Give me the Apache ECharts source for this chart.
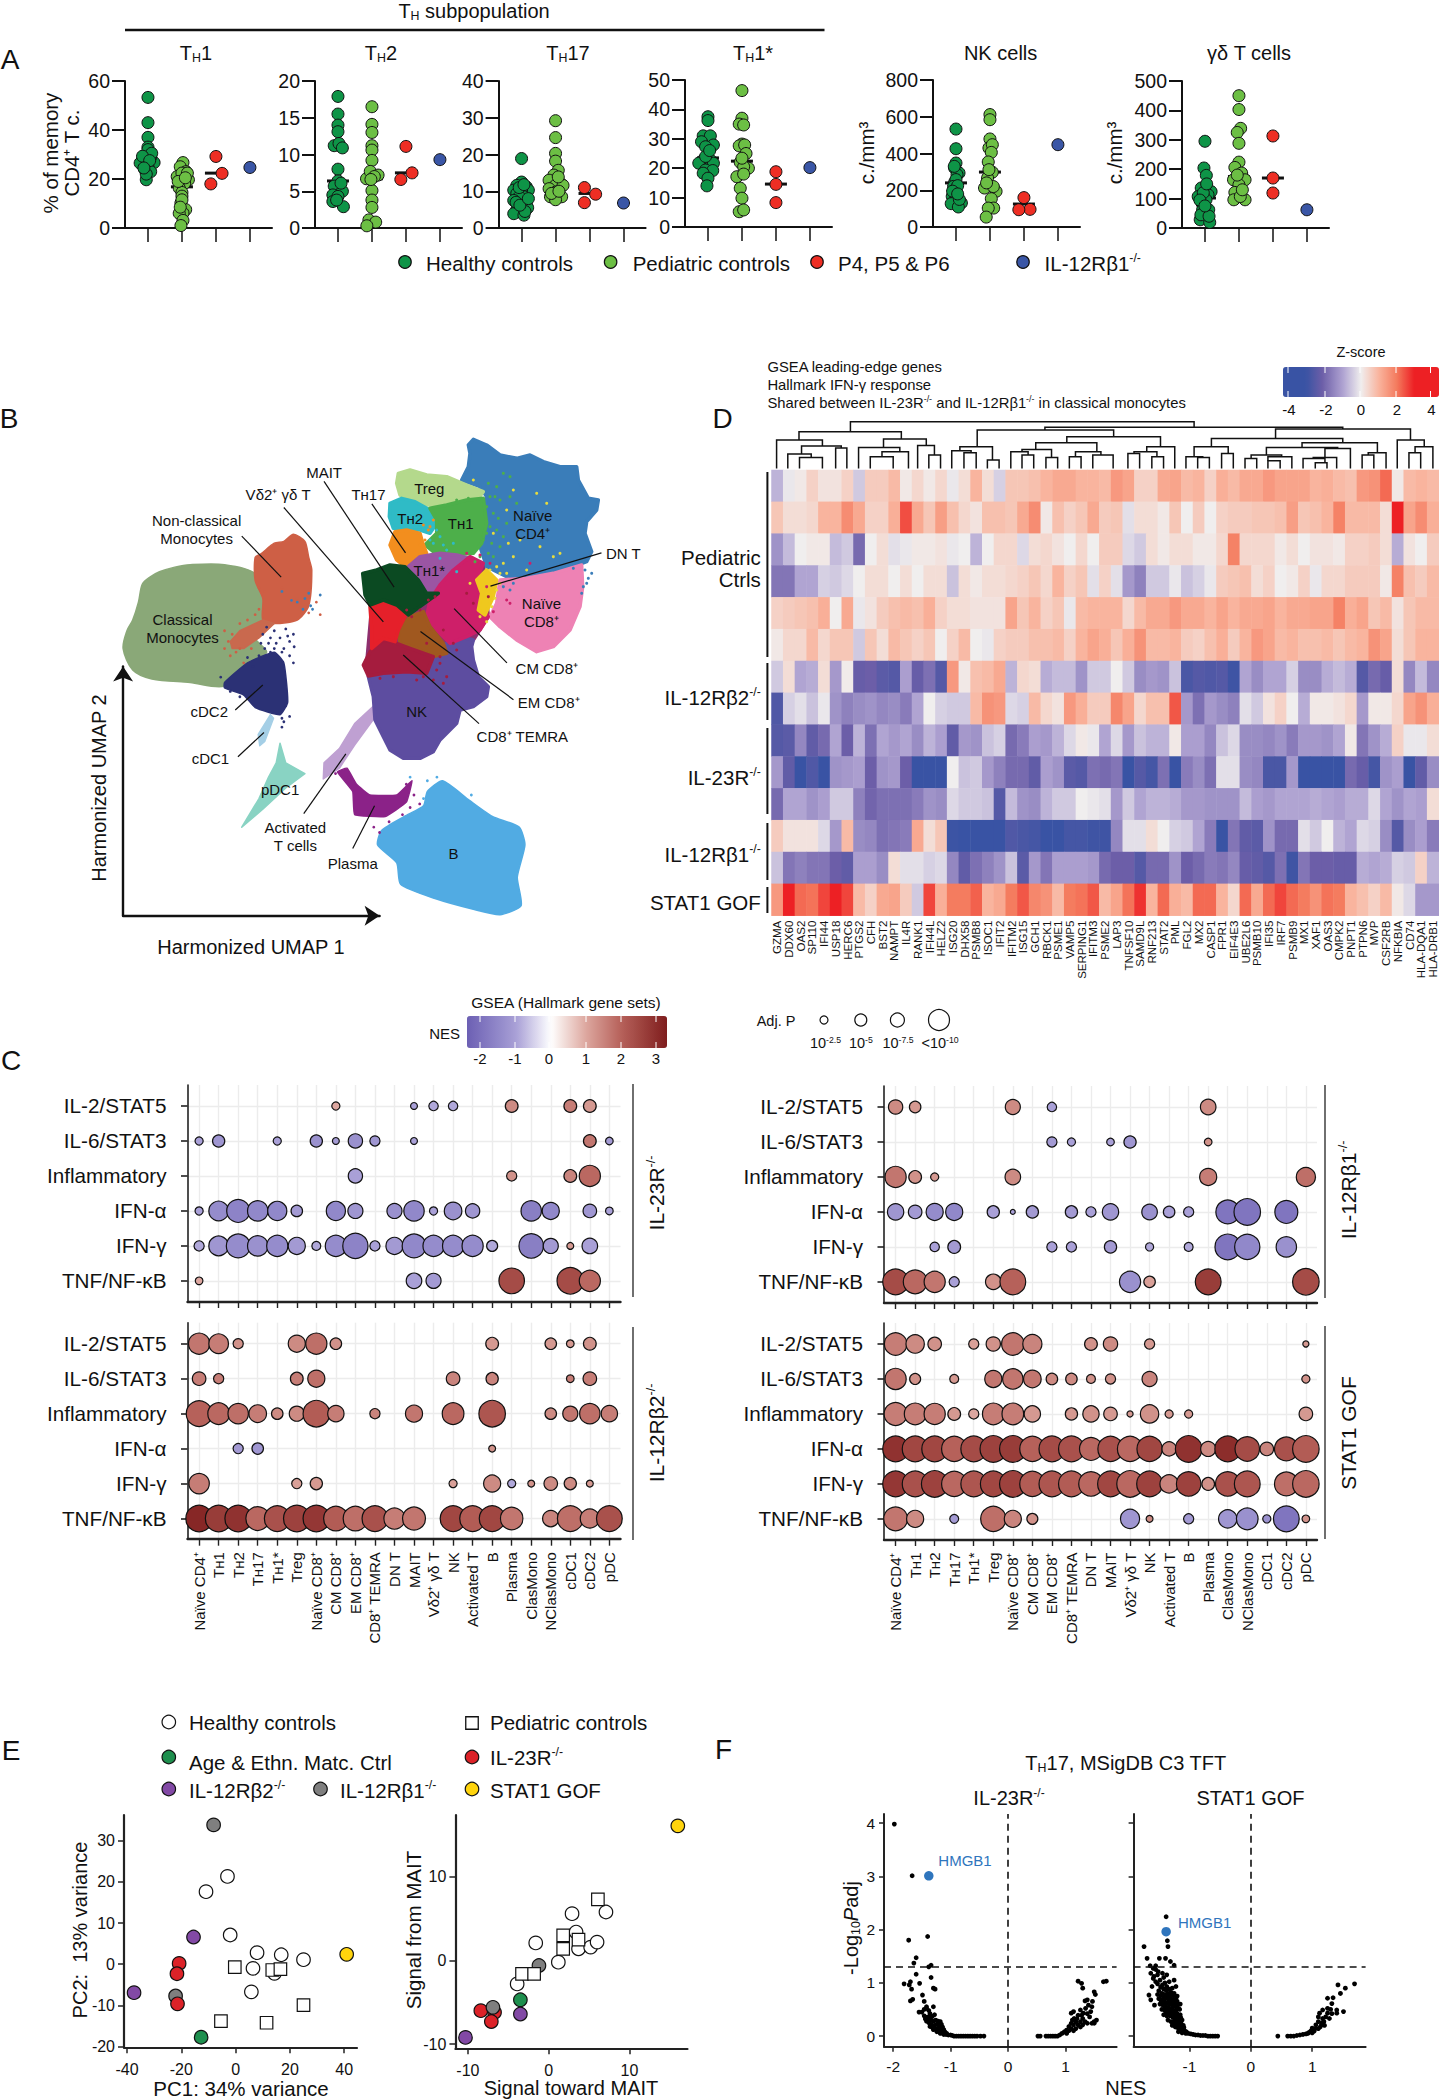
<!DOCTYPE html>
<html><head><meta charset="utf-8"><style>html,body{margin:0;padding:0;background:#fff}#c{width:1439px;height:2100px}</style>
<script src="https://cdn.jsdelivr.net/npm/echarts@6/dist/echarts.min.js"></script></head><body><div id="c"></div>
<script>
const FONT='"Liberation Sans",Arial,sans-serif';
// ---------- Panel A data: [category position with swarm offset, value]
const thTitles=['T_H_1','T_H_2','T_H_17','T_H_1*','NK cells','γδ T cells'];
const th1_hc=[[1,53.3],[1,43],[1,37],[1,33],[1,31],[.84,28],[1.18,26.7],[.93,25.8],[.77,26.5],[1.08,29],[1,25],[.91,23.8],[1.08,23],[.95,19.7],[1,32],[1.11,30.5],[.84,29.3],[.95,22],[1.05,27.5],[.88,24.5]];
const th1_pc=[[2.03,26.7],[1.95,25],[1.86,21],[2.12,23],[2,22.4],[2.19,19.7],[2.08,18.3],[1.92,16.3],[2,14.5],[1.97,10.2],[2,13],[2.11,7.5],[2.03,6.1],[1.92,6],[2.03,3.1],[1.97,1],[2.16,22.4],[1.89,19],[2,11.5],[2.1,20.5],[1.95,8.5]];
const th1_pt=[[3,29.2],[3.18,22.3],[2.85,18]];const th1_ko=[[4,24.7]];const th1_med=[[1,27],[2,16.8],[3,22.4]];
const th2_hc=[[1,17.9],[1,15.5],[1,14],[1,13.1],[.89,11.2],[1.03,11.5],[1.13,10.9],[1,8],[1,6.4],[.89,5.7],[1.13,5],[.85,4.5],[1,4.3],[.85,3.6],[1.16,2.9],[1.09,6.1],[.96,3.8]];
const th2_pc=[[2,16.5],[2,14.1],[2,13],[2,11.2],[2,10.6],[2,9.2],[1.84,6.7],[1.95,7.7],[2.18,7.2],[2.07,7],[2,5.1],[2,3.8],[2,2.8],[1.91,1.1],[2.11,.8],[1.85,.3],[1.97,6.6]];
const th2_pt=[[3,11.1],[3.18,7.5],[2.85,6.6]];const th2_ko=[[4,9.3]];const th2_med=[[1,6.4],[2,6.7],[3,7.5]];
const th17_hc=[[1,18.9],[1,12.5],[.86,11.6],[1.14,11.2],[.77,10.3],[1.2,10.3],[1,10],[.86,9.4],[1.07,8.5],[.93,8.5],[.77,7.5],[1.14,6.6],[1,5.7],[.86,5],[1.18,5.5],[.77,3.9],[1.07,3.5],[.93,11],[1.07,11.8],[.84,7],[1.1,4.5],[.95,6.2],[1.2,8]];
const th17_pc=[[2,29.2],[2,24.6],[2,20.3],[2,18.2],[2.08,15.7],[1.95,14.4],[1.81,13],[2.15,12.1],[2,11.6],[1.81,10.7],[2.22,11.6],[2.01,9.8],[1.85,8.5],[2.18,8.5],[2,7.7],[2.08,13.9],[1.88,9.4],[2.1,10]];
const th17_pt=[[2.85,11],[3.18,9.2],[2.85,6.9]];const th17_ko=[[4,6.8]];const th17_med=[[1,9.5],[2,12.5],[3,9.4]];
const th1s_hc=[[1,37.5],[1,36.2],[.86,31],[1.07,31],[1.16,27.9],[.81,29],[.93,27.3],[.86,22.8],[1.07,22.8],[.73,21.7],[1.16,21.7],[.93,19.4],[1.14,19.2],[.86,18.3],[1,16.6],[.97,14],[.93,24],[1.05,26]];
const th1s_pc=[[2,46.4],[2,37],[1.92,35],[2.05,34.7],[2,28.2],[1.92,27.6],[2.08,27.9],[2.12,25],[1.95,22],[2.19,20],[2.05,20.5],[1.85,17.1],[2.05,18],[1.95,13.2],[2,9.8],[1.92,5.2],[2.05,5.8],[2,23.4]];
const th1s_pt=[[3,18.8],[3,14.5],[3,8.3]];const th1s_ko=[[4,20.2]];const th1s_med=[[1,23.5],[2,22.4],[3,14.6]];
const nk_hc=[[1,533],[1,426],[1,348],[.96,321],[1.09,294],[1.03,285],[.96,243],[1,203],[.89,167],[1,158],[.86,127],[1.16,131],[1.07,109],[1,258],[.93,221],[1.05,225],[.9,195],[1.1,150],[.95,330],[1.05,180]];
const nk_pc=[[2,612],[2,584],[2,479],[1.97,430],[2.07,448],[2.04,406],[1.95,354],[2.07,298],[1.93,267],[1.84,212],[2.18,194],[2.04,154],[2.11,103],[1.95,103],[1.89,54],[1.97,312],[2.1,220],[1.9,240]];
const nk_pt=[[3,160],[3.18,96],[2.85,94]];const nk_ko=[[4,448]];const nk_med=[[1,240],[2,299],[3,125]];
const gd_hc=[[1,295],[.97,204],[1.04,179],[.89,136],[1.18,124],[1.09,113],[.8,107],[.91,85],[1.11,62],[.93,62],[1,37],[.86,28],[1.14,19],[1.03,96],[.88,45],[1.12,40],[.95,120],[1.05,150],[.85,95],[1,75]];
const gd_pc=[[2,450],[2,403],[2.05,339],[1.95,325],[2,288],[2,224],[1.88,206],[2.08,187],[2.18,164],[1.84,164],[2,147],[1.88,121],[1.85,96],[2.18,96],[2.04,107],[1.95,180],[2.1,130]];
const gd_pt=[[3,313],[3,170],[3,119]];const gd_ko=[[4,62]];const gd_med=[[1,102],[2,175],[3,170]];
const thMax=[60,20,40,50,800,500];
const thTicks=[[0,20,40,60],[0,5,10,15,20],[0,10,20,30,40],[0,10,20,30,40,50],[0,200,400,600,800],[0,100,200,300,400,500]];
const thGroups=['Healthy controls','Pediatric controls','P4, P5 & P6','IL-12Rβ1^-/-^'];
// ---------- Panel B data: UMAP outlines (myeloid, B frame) and cells
const umapColors=['#8AA878','#CE5F45','#C9694E','#2B3175','#A5CFE6','#89D3C3','#BFA0D2','#8B2288','#51ABE3'];
const umapSmooth=[.3,.25,0,.15,0,0,0,.1,.2];
const umapShapes=[
[[215,460],[235,440],[260,425],[300,412],[340,405],[430,405],[510,430],[530,500],[530,560],[510,610],[540,650],[490,690],[430,745],[340,735],[240,725],[190,700],[165,640],[175,590],[190,560],[205,510]],
[[510,385],[525,375],[560,345],[585,340],[610,320],[640,340],[650,385],[658,420],[650,520],[620,560],[560,570],[530,560],[530,500],[510,450]],
[[445,620],[470,590],[530,560],[560,570],[520,610],[480,640],[450,640]],
[[430,735],[490,680],[560,650],[585,680],[595,790],[575,825],[510,805],[480,770],[430,750]],
[[550,825],[558,835],[535,900],[522,912],[518,880]],
[[575,905],[590,960],[640,990],[590,1030],[530,1090],[475,1140],[520,1060],[545,1000],[565,960]],
[[820,800],[770,850],[730,920],[690,960],[688,1005],[730,975],[770,910],[825,830]],
[[725,985],[750,975],[775,1020],[810,1050],[880,1050],[920,1010],[905,1070],[850,1110],[770,1105],[765,1040]],
[[960,1040],[1000,1010],[1070,1065],[1130,1110],[1200,1140],[1215,1190],[1195,1280],[1205,1360],[1150,1385],[1080,1370],[980,1340],[890,1300],[880,1240],[830,1190],[840,1150],[900,1110],[950,1080]]];
const speckNavy=[[540,580],[560,590],[590,585],[610,600],[600,620],[575,610],[550,610],[530,600],[585,640],[612,635],[560,640],[535,640],[520,660],[490,665],[505,690],[600,660],[610,680],[580,650],[550,650],[545,625],[525,625],[565,625],[595,605],[580,835],[580,860],[590,800],[470,775],[445,760],[600,830],[585,845],[420,720]];
const speckMono=[[450,600],[470,570],[490,560],[510,545],[430,640],[440,620],[460,650],[480,680],[500,640],[520,530],[535,480],[520,470],[580,470],[620,500],[670,510],[650,540],[680,545],[430,590],[470,640],[445,660]];
const speckBlue=[[605,505],[620,510],[640,500],[655,520],[650,485],[680,490],[635,530],[660,530],[580,480]];
const speckB=[[960,1010],[985,1000],[1000,1020],[1020,1030],[1040,1045],[1075,1050],[915,1000],[950,1060],[935,1100],[920,1110],[1055,1060],[980,1030]];
const speckPlasma=[[720,990],[740,1000],[755,1000],[900,1060],[915,1085],[940,1075],[895,1105],[820,1140],[835,1155],[905,1020],[925,1050],[860,1125]];
// T/NK islands, finer frame (first shape is the island's background)
const tColors=['#8E2F6E','#5D4DA0','#3A7DB9','#EE82B4','#B4D98C','#2FBBC6','#4DAF4A','#F28E1E','#9B55A3','#CE1F69','#A0581F','#A51C3E','#E5202A','#0B4A22','#EFC81E'];
const tShapes=[
[[75,430],[205,415],[390,385],[430,400],[445,560],[400,630],[300,700],[80,700],[95,530]],
[[85,740],[100,800],[105,870],[130,920],[150,960],[190,985],[240,985],[280,965],[300,930],[350,880],[360,840],[400,830],[440,800],[445,770],[415,740],[400,690],[395,650],[400,630],[360,620],[300,650],[200,700]],
[[385,45],[400,28],[440,45],[480,75],[530,85],[570,75],[610,95],[660,110],[710,110],[715,150],[745,205],[775,210],[770,240],[740,275],[735,310],[755,365],[740,395],[700,410],[640,430],[560,440],[500,440],[440,410],[420,350],[430,280],[440,200],[420,170],[365,150],[385,110],[390,70]],
[[480,450],[560,445],[640,430],[725,405],[728,470],[720,530],[690,600],[640,650],[590,665],[530,630],[480,590],[450,560],[470,520]],
[[175,130],[210,120],[260,135],[320,140],[380,165],[430,185],[415,205],[360,215],[310,225],[260,225],[210,215],[180,195],[170,160]],
[[150,220],[185,205],[225,215],[270,240],[290,280],[270,310],[240,300],[200,300],[160,295],[148,260]],
[[270,235],[320,225],[380,210],[430,205],[440,280],[425,340],[400,370],[340,375],[280,365],[255,345],[290,310],[290,270]],
[[165,305],[200,300],[240,310],[250,345],[260,370],[220,395],[195,410],[170,390],[150,345]],
[[205,410],[240,380],[300,370],[350,375],[390,385],[360,420],[310,440],[290,490],[260,490],[235,450]],
[[300,465],[340,420],[390,380],[430,400],[410,450],[425,520],[445,560],[420,600],[380,620],[330,640],[290,600],[260,560],[270,510]],
[[175,600],[210,560],[250,545],[270,590],[310,640],[320,670],[280,680],[220,650],[180,640]],
[[70,705],[90,665],[130,630],[170,640],[210,655],[280,680],[260,730],[200,725],[130,730],[85,738]],
[[90,530],[130,510],[170,525],[200,550],[175,600],[165,635],[130,625],[95,655],[95,600]],
[[68,430],[110,420],[150,405],[195,410],[235,450],[260,490],[295,490],[240,530],[205,555],[170,525],[130,510],[90,525],[75,495]],
[[410,450],[440,420],[470,450],[460,500],[435,555],[415,540],[425,490]]];
const tGreen=[[445,160],[470,170],[490,130],[440,230],[460,250],[480,210],[450,290],[470,300],[500,280],[430,330],[455,340],[480,350],[445,370],[420,380],[510,200],[530,220],[490,320],[465,200],[510,140],[450,200],[475,265],[440,310],[460,380],[405,395],[385,205],[350,210]];
const tYellow=[[400,150],[520,180],[590,190],[620,220],[500,240],[460,310],[505,340],[540,330],[520,380],[490,400],[470,410],[560,420],[660,370],[600,350],[640,380],[450,420],[480,430],[500,430],[390,460],[470,480],[480,460],[455,530],[420,560],[440,575],[465,505]];
const tDarkRed=[[240,540],[215,560],[200,540],[310,600],[340,640],[260,640],[300,700],[320,740],[310,760],[250,740],[160,740],[120,745],[350,660],[285,500],[265,510],[290,720],[280,750],[230,750],[380,490],[400,520],[445,500],[300,680]];
const tCyan=[[290,300],[300,320],[280,340],[320,360],[270,330],[340,340],[310,345],[350,425],[300,385]];
const tOrange=[[270,290],[280,270],[255,330],[265,300],[250,285],[240,345]];
const tBlue=[[735,420],[745,445],[730,470],[740,460],[755,430],[700,415],[520,460],[510,480],[490,470],[725,490]];
const tMagenta=[[400,385],[420,375],[380,370],[450,400],[440,470],[460,545],[500,510],[510,520],[570,400]];
const umapLabels=[['MAIT',690,148],['Vδ2⁺ γδ T',570,208],['Tʜ17',806,208],['Treg',965,193],['Tʜ2',915,275],['Tʜ1',1047,290],['Naïve',1235,268],['CD4⁺',1235,318],['Tʜ1*',965,420],['Non-classical',357,282],['Monocytes',357,332],['Classical',320,558],['Monocytes',320,608],['DN T',1472,375],['Naïve',1258,513],['CD8⁺',1258,563],['CM CD8⁺',1272,695],['EM CD8⁺',1277,792],['CD8⁺ TEMRA',1208,885],['NK',932,815],['cDC2',390,815],['cDC1',393,948],['pDC1',575,1035],['Activated',615,1142],['T cells',615,1192],['Plasma',765,1242],['B',1028,1215]];
const umapLeaders=[[690,172,873,468],[585,245,845,565],[815,235,903,372],[475,325,578,440],[1415,372,1125,465],[1168,680,1030,528],[1185,783,942,592],[1095,850,897,658],[458,812,530,742],[465,943,533,875],[637,1102,747,935],[765,1200,822,1080]];
// ---------- Panel C data: [cell column, NES, -log10 adj. P]; one list per gene set
const cRows=['IL-2/STAT5','IL-6/STAT3','Inflammatory','IFN-α','IFN-γ','TNF/NF-κB'];
const cCols=['Naïve CD4⁺','Tʜ1','Tʜ2','Tʜ17','Tʜ1*','Treg','Naïve CD8⁺','CM CD8⁺','EM CD8⁺','CD8⁺ TEMRA','DN T','MAIT','Vδ2⁺ γδ T','NK','Activated T','B','Plasma','ClasMono','NClasMono','cDC1','cDC2','pDC'];
const c23R=[
[[7,1,3.2],[11,-1,2.7],[12,-.9,3.7],[13,-.9,3.7],[16,1.4,5],[19,1.6,5],[20,1.2,5]],
[[0,-1,3.2],[1,-1.2,4.8],[4,-1,3.2],[6,-1.3,4.8],[7,-1.1,2.7],[8,-1.3,5.6],[9,-1.2,4],[11,-1,2.7],[20,1.7,5],[21,-1.1,3]],
[[8,-1,5.6],[16,1.3,4],[19,1.5,5],[20,1.9,8.3]],
[[0,-1,3.2],[1,-1.4,7.7],[2,-1.6,9],[3,-1.5,8],[4,-1.5,7.5],[5,-1.1,4.5],[7,-1.5,7.5],[8,-1.2,5.9],[10,-1.3,5.9],[11,-1.5,8],[12,-1,3.2],[13,-1.3,6.9],[14,-1.2,5.6],[17,-1.7,8],[18,-1.5,6.7],[20,-1.2,5.3],[21,-1,3]],
[[0,-.9,4],[1,-1.2,7.7],[2,-1.4,9.3],[3,-1.3,8],[4,-1.4,8.3],[5,-1.1,6.7],[6,-.9,3.5],[7,-1.4,8.3],[8,-1.6,9.9],[9,-1,4],[10,-1.1,6.7],[11,-1.5,9.3],[12,-1.4,8.3],[13,-1.4,8.3],[14,-1.4,8.3],[15,-.9,4.3],[17,-1.7,9.6],[18,-1.1,5.9],[19,1.2,2.7],[20,-1,6.1]],
[[0,1,3],[11,-1,6.1],[12,-1.1,5.9],[16,2.4,10],[19,2.4,10.4],[20,1.9,8.3]]];
const cB2=[
[[0,1.7,8.3],[1,1.6,7.7],[2,1.3,4],[5,1.4,6.7],[6,1.8,8.3],[7,1.3,4.5],[15,1.2,5],[18,1.2,4.5],[19,1.2,3],[20,1.3,5]],
[[0,1.6,5.3],[1,1.6,4],[5,1.6,5],[6,1.8,6.7],[13,1.5,5.3],[15,1.5,4.8],[19,1.6,3],[20,1.6,5.3]],
[[0,2,10.1],[1,1.9,8.5],[2,1.8,8],[3,1.6,6.9],[4,1.4,4.5],[5,1.4,5.9],[6,2.1,10.4],[7,1.6,6.4],[9,1.5,4],[11,1.7,6.7],[13,1.9,8.5],[15,2.2,10.4],[18,1.4,4.5],[19,1.7,5.9],[20,1.8,8],[21,1.6,6.4]],
[[2,-1.1,4],[3,-1.2,4.5],[15,1.3,2.7]],
[[0,1.6,8],[5,1.1,4],[6,1.2,4.8],[13,1.1,3.2],[15,1.4,6.7],[16,-.9,3.2],[17,1.3,2.7],[18,1.4,5.3],[19,1.4,4.8],[20,1.2,2.7]],
[[0,3.1,10.4],[1,2.7,10.4],[2,2.9,10.4],[3,1.9,9.3],[4,2.3,10.1],[5,2.6,10.4],[6,2.8,10.4],[7,2.1,9.6],[8,1.8,9.6],[9,2.3,10.1],[10,1.6,8.3],[11,1.7,9],[13,2.5,10.1],[14,2.1,10.1],[15,2.5,10.1],[16,1.7,8.8],[18,1.5,6.4],[19,1.8,10.1],[20,1.6,7.5],[21,2.3,10.1]]];
const cB1=[
[[0,1.4,5.6],[1,1.2,4.5],[6,1.4,5.9],[8,-1,3.7],[16,1.4,6.1]],
[[8,-1.1,4],[9,-1,3.2],[11,-1,3],[12,-1.2,4.8],[16,1.3,3]],
[[0,1.7,8.3],[1,1.3,5],[2,1.2,3.2],[6,1.4,6.1],[16,1.6,6.7],[21,1.8,7.5]],
[[0,-1.2,6.4],[1,-1.1,5.3],[2,-1.4,6.7],[3,-1.5,6.7],[5,-1,4.8],[6,-1,1.9],[7,-1.1,4.8],[9,-1.1,4.8],[10,-1,4],[11,-1.2,6.4],[13,-1.3,6.1],[14,-1,4.5],[15,-1,4],[17,-1.9,9.3],[18,-1.9,10.4],[20,-1.9,9]],
[[2,-1,3.7],[3,-1.1,5],[8,-1,4],[9,-1,4],[11,-1.1,4.8],[13,-.9,3.2],[15,-.9,3.5],[17,-1.9,10],[18,-1.5,9.9],[20,-1.3,8]],
[[0,2.4,10.1],[1,1.9,9.3],[2,1.7,8.3],[3,-1,4],[5,1.3,6.1],[6,2,10.1],[12,-1.3,8.3],[13,1.1,4.5],[16,2.7,10.1],[21,2.4,10.4]]];
const cGOF=[
[[0,1.6,8.8],[1,1.4,7.2],[2,1.3,5.3],[4,1.1,4],[5,1.3,5.6],[6,1.7,8.8],[7,1.5,7.5],[10,1.3,5],[11,1.4,5.6],[13,1.2,4],[21,1.2,2.4]],
[[0,1.7,8.3],[1,1.3,4.3],[3,1.2,3.5],[5,1.7,6.7],[6,1.7,8],[7,1.7,6.9],[8,1.4,4.5],[9,1.4,4.5],[10,1.3,3.5],[11,1.3,4],[13,1.5,5.9],[21,1.3,3.2]],
[[0,1.6,9],[1,1.6,8.5],[2,1.6,8.3],[3,1.2,5],[4,1,4],[5,1.6,8.5],[6,1.6,8.5],[7,1.2,6.4],[9,1.2,4.8],[10,1.3,6.4],[11,1.2,5.3],[12,1.2,2.4],[13,1.3,7.2],[14,1.2,3.2],[15,1.2,3.2],[21,1.2,5.3]],
[[0,2.9,10.1],[1,2.5,10.1],[2,2.5,10.1],[3,2,9.9],[4,2.4,10.1],[5,2.6,10.4],[6,2.7,10.4],[7,2,9.9],[8,2.4,10.1],[9,2.3,10.1],[10,1.9,9],[11,2.3,9.9],[12,1.9,9.9],[13,2.5,9.9],[14,1.5,5.6],[15,2.9,10.4],[16,1.4,5.9],[17,3,10.1],[18,2.4,9.6],[19,1.5,5.3],[20,2.3,9.3],[21,2.1,10.4]],
[[0,2.8,10.1],[1,2.3,10.1],[2,2.6,10.4],[3,1.9,9.9],[4,2.2,10.1],[5,2.5,10.1],[6,2.6,10.4],[7,2.1,9.9],[8,2.2,10.1],[9,2.1,10.1],[10,1.9,9.6],[11,2.5,10.1],[12,1.9,10.4],[13,2.6,10.1],[14,1.5,7.2],[15,2.6,9.6],[16,1.3,5],[17,2.3,9.6],[18,2.2,10.1],[20,1.8,9.3],[21,1.9,10.4]],
[[0,1.7,9.3],[1,1.4,6.7],[3,-1.1,3.5],[5,1.8,9.9],[6,1.5,6.7],[7,1.3,4.3],[12,-1.2,7.5],[13,1.4,2.7],[15,-1.1,4],[17,-1.2,7.2],[18,-1.3,8.5],[19,-1.3,3.2],[20,-1.9,10.1],[21,1.3,3]]];
const pLegendValues=[3.2,4.8,5.6,8.4];
const pLegendLabels=['10^-2.5^','10^-5^','10^-7.5^','<10^-10^'];
// ---------- Panel D data
const genes=['GZMA','DDX60','OAS2','SP110','IFI44','USP18','HERC6','PTGS2','CFH','BST2','NAMPT','IL4R','RANK1','IFI44L','HELZ2','ISG20','DHX58','PSMB8','ISOC1','IFIT2','IFITM2','ISG15','GCH1','RBCK1','PSME1','VAMP5','SERPING1','IFITM3','PSME2','LAP3','TNFSF10','SAMD9L','RNF213','STAT2','PML','FGL2','MX2','CASP1','FPR1','EIF4E3','UBE2L6','PSMB10','IFI35','IRF7','PSMB9','MX1','XAF1','OAS3','CMPK2','PNPT1','PTPN6','MVP','CSF2RB','NFKBIA','CD74','HLA-DQA1','HLA-DRB1'];
const zPed1=[-.8,-.1,.1,.5,.2,.2,.5,-.5,.6,.6,.9,.1,.4,.1,.4,-.1,.3,1,.3,-.4,.7,.7,.8,1,1.2,1.2,1,1,.9,1.5,1.3,.5,.5,1.2,1.3,.9,1,.5,1.1,.9,1.2,1.2,1.5,1.3,1.3,1.3,1,1.1,.9,.8,1.5,1.6,2.2,.1,.9,1,.9];
const zPed2=[.7,.3,.3,.4,1,1,1.7,1.2,.5,.5,1.1,2.5,1.2,.7,1.4,.8,.4,.2,.8,.8,.7,1.2,1.7,.1,.8,.5,.7,1.2,.6,.7,-.2,.3,.3,.1,.7,0,.6,0,.5,.6,.6,.7,.7,.8,1.4,.7,.8,1,1.9,.9,.9,.9,.3,3.5,1.3,1.7,1.1];
const zPed3=[-1.3,-.7,0,.1,.1,-.7,-.5,-2,0,.3,-.2,-.1,.1,.1,.2,-.1,0,-.8,0,.4,.4,-.3,.3,.4,.2,0,.4,0,.6,.6,-.3,-.5,.3,.1,.3,.3,.1,.1,.4,1.9,.4,.4,.4,.1,.3,0,.2,.2,.1,.5,.5,.6,.3,-.9,.2,0,.6];
const zPed4=[-1.8,-1.8,-1,-1,-.4,-.5,-.3,0,.3,.3,0,.3,0,.3,.3,-.6,.3,.1,.3,.3,.4,.5,.7,.4,1,.5,.7,-.2,.5,-.2,-1.2,-1.6,-.5,-.5,-.1,-.6,-.4,-.1,.6,.7,.8,.3,.5,0,.1,.5,-.1,.4,.4,.6,.6,.6,.1,1.9,.8,.6,.9];
const zPed5=[.5,.6,.7,.8,1.1,0,1.2,-.1,.2,.6,.8,.9,.8,1.1,.5,.3,.3,.2,.2,.2,1.3,.7,1,.5,.7,-.1,.9,1,1,1,.4,.9,1.2,1.2,1.5,1.2,1.2,1,1.3,1,1.2,1.2,1.3,1,1.2,1.2,1.3,1.3,1.9,1.1,1.3,.7,.9,.2,.7,.9,.9];
const zPed6=[.1,.4,.4,.9,.4,.7,.7,-.5,.7,.3,.9,.7,.5,.7,0,.5,.9,0,-.1,.5,.6,.6,.8,.8,.9,.5,1,1.3,1.1,.7,1.1,1.6,.9,.9,1,.6,.5,.8,1.1,.6,1,1.5,1.3,.9,1,.8,.8,.9,.7,.9,1,1.6,1.3,.3,.7,1,1];
const zB2a=[-.5,.3,-1,-.9,.3,-1.2,.05,-2.3,-2.2,-2.5,-2.6,-1.1,-2.3,-1.9,-2.6,1.5,.1,.8,.9,1.2,-.8,.4,.3,-.9,-.7,-.7,-1.3,-.5,-.5,0,-.5,-1.4,-1.2,-1.3,-.6,-2.8,-2.6,-2.7,-2.6,-3,-1,-1.4,-1,-1,-.4,-1.4,-1.4,-.9,-.7,-.9,-2.6,-2,-2.3,.3,-1.5,-.7,-1.5];
const zB2b=[-2.7,-.4,-.2,-.6,-.1,-1.3,-1.6,-1.4,-1.3,-1.5,-1.4,-1.7,-1,0,-.4,-.5,-.5,.9,1.6,1.5,-.3,-.4,.9,.4,.2,1.5,1.1,.6,.6,1.8,1.3,.4,.8,.8,2.4,-1.2,-1.9,-1.2,-1.4,-1.6,-.2,-.5,.2,.5,0,-.9,.1,.1,.2,.4,-1.2,.1,.1,.4,1.3,1.6,1.1];
const z23a=[-2.6,-2.5,-1.5,-2.4,-2,-1,-2.2,-.8,-1.9,-1,-1.2,-1,-1.4,-.8,-1.1,-2.4,-1.2,-1.3,-.6,-.4,-2,-1.7,-1.1,-1.2,-.8,-.3,.1,-.1,-1,-.3,-1.2,-.6,-.8,-.8,.1,-1.1,-1.1,-1.5,-.6,-.3,-1.4,-1.4,-1.5,-1.3,-1.7,-1.2,-1.2,-1.3,-1,.1,-1.8,-1.3,-.9,.5,-.1,-.1,.3];
const z23b=[-1.2,-2.4,-3.5,-2.7,-3.2,-1.3,-1.2,-1.1,-2.2,-1.3,-1.2,-2.2,-3.6,-3.8,-3.7,0,-.6,-.5,-1.2,-1.6,-2,-2,-2.4,-1.1,-1.3,-2.5,-2.6,-1.9,-2,-1.8,-3.2,-2.6,-2.9,-1.9,-3.3,-1.7,-1.4,-1.9,-.2,-.2,-1.4,-1.5,-2.8,-2.8,-1.2,-3.3,-3.2,-3.3,-3.3,-2,-2.3,-2.9,-1.3,-1.1,-3.8,-2.4,-1.4];
const z23c=[-2,-1,-1,-1.3,-1.1,-.5,-.5,-1.6,-2.1,-1.9,-1.9,-1.9,-1.7,-1.3,-1.4,-.3,-.5,-.5,-.6,-2.6,-.7,-1.3,-1.4,-.8,-.5,-.5,0,-.1,-.2,-1.2,-.5,-1,-.8,-.8,-.9,-1.2,-1.2,-1.3,-1.3,-1.3,-.7,-1.1,-1.2,-1,-1,-1,-.9,-1,-1.1,-.9,-.9,-.3,-1,-1.3,-1,-1.1,.3];
const zB1a=[.6,.2,.2,.2,-.3,-1.2,.9,-1.4,-1.5,-1.9,-1.8,-1.7,1.2,.3,.7,-3.1,-3.6,-3.4,-3.7,-3.8,-2.7,-2.8,-2.9,-3.7,-3.7,-2.9,-2.9,-3,-3,-1.5,-.2,-.2,.3,0,-.4,-.5,-1,-1.7,-3.5,-1.8,-2.4,-2.5,-1.3,-2,-2,-.2,-.5,0,-.8,-1,-.3,-.4,-1.4,-2.6,-1.4,-1.1,-1.7];
const zB1b=[-.6,-1.8,-1.6,-1.8,-1.8,-2.2,-2.4,-1.1,-1.1,-1.4,.3,-.2,-.2,-.4,-.3,-1.5,-2.4,-1.9,-1.6,-1.3,-.6,-2.5,-1.2,-1.8,-1.1,-1.1,-1.1,-1.2,-2,-2.2,-2.2,-2.6,-2,-2,-1.3,-2.2,-2,-1.7,-1.8,-1.5,-2.3,-2.4,-2.6,-1.9,-3,-1.8,-2.2,-2.2,-2.3,-2.3,-.9,-1,-.9,-.4,-.5,.5,-.8];
const zGOF=[1.5,3.2,2.2,2.1,2.6,3.8,2.6,.9,.5,1.2,1.3,.6,-.5,2.6,1.1,2,2,2.3,1,1.2,2,2.4,1.8,1.6,.9,2,2.1,2.4,.9,1.3,2.1,2.8,1,2.2,1.1,.9,2.2,2.2,1,.4,2.2,1.2,2.2,2.6,2.2,2,1.6,2.1,2,1,.8,.5,.9,.1,-.3,-1.2,-1.2];
const zRows=[zPed1,zPed2,zPed3,zPed4,zPed5,zPed6,zB2a,zB2b,z23a,z23b,z23c,zB1a,zB1b,zGOF];
const dendro=[[413,275,1088,262,245],[312,300,513,297,275],[268,385,358,318,300],[317,342,395,324,318],[290,385,336,352,342],[313,385,358,385,352],[384,385,406,385,324],[478,322,562,316,297],[429,385,510,335,322],[475,350,527,385,335],[452,385,497,385,350],[545,385,578,345,316],[567,385,590,385,345],
[795,270,1380,267,262],[662,320,930,290,270],[628,332,692,360,320],[612,385,650,338,332],[636,385,660,385,338],[682,385,705,385,360],[838,308,1022,320,290],[777,328,897,335,308],[750,335,808,352,328],[728,385,762,345,335],[750,385,773,385,345],[797,385,820,385,352],[855,350,905,345,335],[843,385,866,385,350],[889,385,929,385,345],[995,335,1050,385,320],[970,340,1015,350,335],[958,385,981,385,340],[1005,385,1028,385,350],
[1248,295,1513,300,267],[1122,320,1380,308,295],[1088,350,1155,340,320],[1072,385,1105,352,350],[1095,385,1118,385,352],[1142,385,1165,385,340],[1300,322,1448,338,308],[1230,345,1370,325,322],[1200,355,1260,350,345],[1188,385,1211,385,355],[1233,362,1280,385,350],[1233,385,1257,385,362],[1345,352,1395,385,325],[1322,355,1368,385,352],[1302,385,1345,368,355],[1326,385,1349,385,368],[1430,345,1465,385,338],[1418,385,1441,385,345],[1487,385,1540,320,300],[1522,338,1557,385,320],[1510,385,1533,385,338]];
// ---------- Panel E data
const pca_hc=[[-10.9,17.6],[-3,21.3],[-2,7.1],[7.9,2.8],[16.8,2.3],[25,1.1],[6.4,-1],[14.3,-2.2],[5.8,-6.7]];
const pca_pc=[[-.3,-.7],[13.5,-1.4],[16.5,-1.2],[25,-9.9],[-5.4,-13.8],[11.4,-14.2]];
const pca_match=[[-12.7,-17.7]];const pca_b2=[[-15.5,6.6],[-37.4,-6.9]];const pca_b1=[[-8.1,33.8],[-22.1,-7.7]];
const pca_23=[[-20.8,.2],[-21.6,-2.3],[-21.4,-9.6]];const pca_gof=[[40.9,2.4]];
const mait_hc=[[7.1,5.8],[2.9,5.6],[3.4,3.4],[-1.6,2.1],[3.7,1.4],[5.2,1.6],[6,2.2],[1.2,-.2],[-3.9,-2.8]];
const mait_pc=[[6.1,7.3],[1.8,3],[3.7,2.5],[1.8,1.4],[-3.3,-1.6],[-1.8,-1.6]];
const mait_match=[[-3.5,-4.7]];const mait_b2=[[-3.5,-6.4],[-10.3,-9.2]];const mait_b1=[[-1.2,-.6],[-6.9,-5.6]];
const mait_23=[[-8.4,-6],[-6.7,-6.2],[-7.1,-7.3]];const mait_gof=[[16,16.1]];
// ---------- Panel F data
const volc23=[[-1.98,3.98],[-1.67,3.01],[-1.73,1.8],[-1.4,1.87],[-1.6,1.47],[-1.64,1.37],[-1.34,1.33],[-1.38,1.3],[-1.6,1.16],[-1.34,1.1],[-1.7,1.02],[-1.72,.96],[-1.81,.98],[-1.68,.88],[-1.54,.99],[-1.3,.9],[-1.27,.88],[-1.49,.77],[-1.7,.66],[-1.66,.69],[-1.46,.65],[-1.42,.55],[-1.55,.45],[-1.5,.45],[-1.46,.5],[-1.42,.52],[-1.38,.48],[-1.36,.42],[-1.3,.55],[-1.46,.38],[-1.42,.35],[-1.38,.36],[-1.35,.3],[-1.32,.37],[-1.28,.4],[-1.44,.32],[-1.4,.3],[-1.34,.36],[-1.42,.28],[-1.38,.25],[-1.34,.22],[-1.3,.28],[-1.26,.3],[-1.22,.28],[-1.18,.27],[-1.36,.18],[-1.32,.16],[-1.28,.2],[-1.24,.22],[-1.2,.2],[-1.16,.22],[-1.3,.12],[-1.26,.13],[-1.22,.14],[-1.18,.15],[-1.14,.17],[-1.24,.08],[-1.2,.09],[-1.16,.1],[-1.12,.12],[-1.18,.05],[-1.14,.06],[-1.1,.08],[-1.07,.05],[-1.12,.03],[-1.08,.03],[-1.04,.02],[-1,.02],[-.97,.01],[-.94,0],[-.9,0],[-.86,0],[-.82,0],[-.78,0],[-.74,0],[-.7,0],[-.66,0],[-.62,0],[-.58,0],[-.54,0],[-.48,0],[-.42,0],
[1.66,1.02],[1.71,1.03],[1.22,1.03],[1.28,.99],[1.3,.9],[1.5,.83],[1.52,.78],[1.38,.68],[1.47,.65],[1.34,.66],[1.4,.58],[1.14,.46],[1.1,.43],[1.26,.49],[1.35,.52],[1.46,.55],[1.44,.46],[1.31,.43],[1.22,.39],[1.15,.33],[1.3,.33],[1.42,.36],[1.5,.27],[1.54,.3],[1.46,.24],[1.34,.27],[1.26,.27],[1.18,.27],[1.1,.24],[1.06,.18],[1.14,.21],[1.22,.21],[1.3,.21],[1.38,.24],[1.5,.24],[1.2,.33],[1.28,.39],[1.38,.42],[1.12,.3],[1.02,.11],[1.1,.14],[1.18,.14],[1.26,.17],[.98,.08],[1.06,.1],[1.14,.1],[.94,.05],[.9,.02],[1.02,.05],[.86,0],[.82,0],[.78,0],[.74,0],[.7,0],[.66,0],[.56,0],[.52,0]];
const volcGOF=[[-1.38,2.24],[-1.36,1.79],[-1.35,1.68],[-1.74,1.68],[-1.69,1.46],[-1.49,1.46],[-1.39,1.46],[-1.31,1.4],[-1.25,1.33],[-1.64,1.32],[-1.55,1.32],[-1.59,1.27],[-1.63,1.18],[-1.51,1.21],[-1.44,1.18],[-1.37,1.15],[-1.59,1.08],[-1.48,1.05],[-1.25,1.05],[-1.61,.93],[-1.44,.96],[-1.37,.93],[-1.22,.93],[-1.66,.77],[-1.63,.68],[-1.57,.58],[-1.5,.85],[-1.45,.8],[-1.4,.78],[-1.35,.8],[-1.3,.82],[-1.25,.8],[-1.2,.75],[-1.5,.7],[-1.45,.68],[-1.4,.7],[-1.35,.72],[-1.3,.7],[-1.25,.68],[-1.2,.65],[-1.15,.6],[-1.48,.6],[-1.43,.58],[-1.38,.6],[-1.33,.6],[-1.28,.58],[-1.23,.55],[-1.18,.52],[-1.45,.5],[-1.4,.48],[-1.35,.5],[-1.3,.48],[-1.25,.45],[-1.2,.42],[-1.15,.4],[-1.42,.4],[-1.37,.38],[-1.32,.38],[-1.27,.35],[-1.22,.33],[-1.17,.3],[-1.12,.3],[-1.35,.3],[-1.3,.27],[-1.25,.25],[-1.2,.23],[-1.15,.2],[-1.1,.2],[-1.28,.2],[-1.23,.17],[-1.18,.14],[-1.13,.12],[-1.08,.1],[-1.18,.08],[-1.12,.06],[-1.06,.05],[-1.02,.05],[-.98,.04],[-.94,.03],[-.9,.02],[-.86,.02],[-.82,.01],[-.78,.01],[-.74,.01],[-.7,0],[-.66,0],[-.62,0],[-.58,0],[-.54,0],
[-1.55,1.25],[-1.52,1.15],[-1.58,1.12],[-1.55,1.02],[-1.52,.98],[-1.42,1.1],[-1.4,1],[-1.33,1.02],[-1.47,.92],[-1.42,.88],[-1.38,.86],[-1.33,.88],[-1.28,.9],[-1.26,.76],[-1.32,.76],[-1.38,.74],[-1.42,.74],[-1.47,.76],[-1.52,.78],[-1.22,.7],[-1.28,.64],[-1.34,.66],[-1.4,.64],[-1.46,.64],[-1.24,.6],[-1.2,.58],[-1.16,.5],[-1.22,.48],[-1.28,.52],[-1.34,.54],[-1.4,.54],[-1.38,.43],[-1.33,.44],[-1.28,.42],[-1.23,.38],[-1.18,.36],[-1.14,.34],[-1.24,.3],[-1.19,.27],[-1.14,.25],[-1.09,.16],[-1.15,.15],[-1.2,.18],[-1.05,.08],
[1.69,.98],[1.42,.96],[1.54,.9],[1.46,.8],[1.34,.72],[1.25,.71],[1.32,.61],[1.25,.52],[1.4,.49],[1.51,.46],[1.4,.43],[1.12,.43],[1.17,.49],[1.25,.43],[1.1,.36],[1.17,.33],[1.28,.33],[1.1,.27],[1.19,.27],[1.06,.21],[1.15,.21],[1,.15],[1.05,.14],[1.1,.14],[.98,.1],[1.03,.09],[.95,.07],[1,.06],[.93,.05],[.9,.04],[.85,.03],[.8,.02],[.75,.01],[.7,0],[.65,0],[.6,0],[.44,0],[1.22,.36],[1.32,.42],[1.2,.2],[1.13,.17],[1.3,.5],[1.16,.25]];
const hmgb1_23=[[-1.38,3.01]];const hmgb1_GOF=[[-1.38,1.96]];

// ========== helpers ==========
const INK='#111';
const grids=[],xAxes=[],yAxes=[],series=[],graphics=[];
function rich(str,size,color){
  const r={n:{fontSize:size,fontFamily:FONT,fill:color},u:{fontSize:size*.6,fontFamily:FONT,fill:color,verticalAlign:'top',lineHeight:size*1.1},
    d:{fontSize:size*.62,fontFamily:FONT,fill:color,verticalAlign:'bottom',lineHeight:size*1.1},i:{fontSize:size,fontFamily:FONT,fontStyle:'italic',fill:color}};
  const out=str.replace(/\^([^^]+)\^|_([^_]+)_|~([^~]+)~|([^^_~]+)/g,(m,a,b,c,e)=>a?`{u|${a}}`:b?`{d|${b}}`:c?`{i|${c}}`:`{n|${e}}`);
  return {text:out,rich:r};
}
function T(x,y,str,size,o={}){
  const color=o.color||INK,{text,rich:r}=rich(str,size,color);
  graphics.push({type:'text',x,y,rotation:o.rot||0,silent:true,z:60,style:{text,rich:r,align:o.align||'center',verticalAlign:'middle',textAlign:o.align||'center',textVerticalAlign:'middle',fill:color,fontSize:size,fontFamily:FONT}});
}
function dot(x,y,d,fill,square){
  graphics.push(square?{type:'rect',silent:true,z:60,shape:{x:x-d/2,y:y-d/2,width:d,height:d},style:{fill,stroke:'#111',lineWidth:1.3}}
   :{type:'circle',silent:true,z:60,shape:{cx:x,cy:y,r:d/2},style:{fill,stroke:'#111',lineWidth:1.2}});
}
function line(x1,y1,x2,y2,w,c){graphics.push({type:'line',silent:true,z:60,shape:{x1,y1,x2,y2},style:{stroke:c||'#111',lineWidth:w}});}
function addGrid(g,x,y){grids.push(Object.assign({containLabel:false},g));const i=grids.length-1;
  xAxes.push(Object.assign({gridIndex:i},x));yAxes.push(Object.assign({gridIndex:i},y));return i;}
function ramp(anchors,min,max,n){
  const hex=c=>[1,3,5].map(k=>parseInt(c.substr(k,2),16));const out=[];
  for(let i=0;i<=n;i++){const v=min+(max-min)*i/n;let j=0;while(j<anchors.length-2&&v>anchors[j+1][0])j++;
    const [a,ca]=anchors[j],[b,cb]=anchors[j+1];const t=Math.max(0,Math.min(1,(v-a)/(b-a)));const A=hex(ca),B=hex(cb);
    out.push('#'+A.map((q,k)=>Math.round(q+(B[k]-q)*t).toString(16).padStart(2,'0')).join(''));}
  return out;
}
const segRender=(w,c)=>(p,api)=>{const a=api.coord([api.value(0),api.value(1)]),b=api.coord([api.value(2),api.value(3)]);
  return {type:'line',shape:{x1:a[0],y1:a[1],x2:b[0],y2:b[1]},style:{stroke:c,lineWidth:w}};};

// ========== Panel A ==========
const thData=[[th1_hc,th1_pc,th1_pt,th1_ko,th1_med],[th2_hc,th2_pc,th2_pt,th2_ko,th2_med],[th17_hc,th17_pc,th17_pt,th17_ko,th17_med],[th1s_hc,th1s_pc,th1s_pt,th1s_ko,th1s_med],[nk_hc,nk_pc,nk_pt,nk_ko,nk_med],[gd_hc,gd_pc,gd_pt,gd_ko,gd_med]];
const thLeft=[125,315,498.6,685,933,1182],thTop=[81,81,81,80,80,81],thTitleX=[196,381,568,753,1000.6,1249];
const thColors=['#0E9447','#6CBF44','#EE2E24','#3A56A6'];
thData.forEach((d,i)=>{
  const g=addGrid({left:thLeft[i],top:thTop[i],width:147,height:147},
   {type:'value',min:.324,max:4.65,axisLine:{onZero:false,lineStyle:{color:INK,width:2}},axisTick:{customValues:[1,2,3,4],length:14,lineStyle:{color:INK,width:1.5}},axisLabel:{show:false},splitLine:{show:false}},
   {type:'value',min:0,max:thMax[i],axisLine:{onZero:false,lineStyle:{color:INK,width:2}},axisTick:{customValues:thTicks[i],length:13,lineStyle:{color:INK,width:2}},axisLabel:{customValues:thTicks[i],fontSize:19.5,color:INK,fontFamily:FONT,margin:15},splitLine:{show:false}});
  series.push({type:'custom',xAxisIndex:g,yAxisIndex:g,clip:false,z:2,silent:true,data:d[4],renderItem:(p,api)=>{const c=api.coord([api.value(0),api.value(1)]);return {type:'line',shape:{x1:c[0]-11,y1:c[1],x2:c[0]+11,y2:c[1]},style:{stroke:'#111',lineWidth:3}};}});
  [0,1,2,3].forEach(k=>series.push({type:'scatter',name:thGroups[k],xAxisIndex:g,yAxisIndex:g,z:3,silent:true,clip:false,data:d[k],symbolSize:12,itemStyle:{color:thColors[k],borderColor:'#111',borderWidth:1,opacity:1}}));
  T(thTitleX[i],53,thTitles[i],20);
});
T(474,11,'T_H_ subpopulation',20);line(125,30,824.5,30,2.6);T(10,59,'A',28);
T(50,153,'% of memory',20.5,{rot:Math.PI/2});T(71,153,'CD4⁺ T c.',20.5,{rot:Math.PI/2});
T(866,153,'c./mm³',20.5,{rot:Math.PI/2});T(1114,153,'c./mm³',20.5,{rot:Math.PI/2});
[[405,426],[610.6,632.7],[817,838],[1023,1044.6]].forEach((p,i)=>{dot(p[0],262,12.5,thColors[i]);T(p[1],263,thGroups[i],20.5,{align:'left'});});

// ========== Panel B ==========
const gU=addGrid({left:60,top:420,width:600,height:560},{type:'value',min:0,max:1568,show:false},{type:'value',min:0,max:1568,inverse:true,show:false});
const gT=addGrid({left:340,top:430,width:270,height:330},{type:'value',min:0,max:810,show:false},{type:'value',min:0,max:990,inverse:true,show:false});
const polyRender=(shapes,colors,smooth,sw)=>(p,api)=>({type:'polygon',shape:{smooth:smooth?smooth[p.dataIndex]:0,points:shapes[p.dataIndex].map(q=>api.coord(q))},style:{fill:colors[p.dataIndex],stroke:colors[p.dataIndex],lineWidth:sw,lineJoin:'round'}});
series.push({type:'custom',xAxisIndex:gU,yAxisIndex:gU,silent:true,clip:false,z:2,data:umapShapes.map((s,i)=>[i,0]),renderItem:polyRender(umapShapes,umapColors,umapSmooth,1.5)});
series.push({type:'custom',xAxisIndex:gT,yAxisIndex:gT,silent:true,clip:false,z:2,data:tShapes.map((s,i)=>[i,0]),renderItem:polyRender(tShapes,tColors,null,3.5)});
[[speckNavy,'#2B3175'],[speckMono,'#CE5F45'],[speckBlue,'#3A7DB9'],[speckB,'#51ABE3'],[speckPlasma,'#8B2288']].forEach(s=>
  series.push({type:'scatter',xAxisIndex:gU,yAxisIndex:gU,silent:true,clip:false,z:3,symbolSize:2.8,data:s[0],itemStyle:{color:s[1],opacity:1}}));
[[tGreen,'#4DAF4A'],[tYellow,'#E8DC3C'],[tDarkRed,'#A51C3E'],[tCyan,'#2FBBC6'],[tOrange,'#F28E1E'],[tBlue,'#3A7DB9'],[tMagenta,'#CE1F69']].forEach(s=>
  series.push({type:'scatter',xAxisIndex:gT,yAxisIndex:gT,silent:true,clip:false,z:3,symbolSize:3,data:s[0],itemStyle:{color:s[1],opacity:1}}));
series.push({type:'custom',xAxisIndex:gU,yAxisIndex:gU,silent:true,clip:false,z:4,data:umapLeaders,renderItem:segRender(1.2,'#111')});
const ux=v=>60+v/2.613,uy=v=>420+v/2.8;
umapLabels.forEach(l=>T(ux(l[1]),uy(l[2]),l[0],15));
addGrid({left:123.1,top:666.4,width:256.5,height:249.3},
 {type:'value',min:0,max:1,axisLine:{onZero:false,symbol:['none','arrow'],symbolSize:[15,15],lineStyle:{color:INK,width:2.4}},axisTick:{show:false},axisLabel:{show:false},splitLine:{show:false}},
 {type:'value',min:0,max:1,axisLine:{onZero:false,symbol:['none','arrow'],symbolSize:[15,15],lineStyle:{color:INK,width:2.4}},axisTick:{show:false},axisLabel:{show:false},splitLine:{show:false}});
T(251,947,'Harmonized UMAP 1',20);T(99,788,'Harmonized UMAP 2',20,{rot:Math.PI/2});T(9,418,'B',28);

// ========== Panel C ==========
const bubbleIdx=[];
const cAll=[[c23R,187.5,1085,false,'IL-23R^-/-^',633,656,1193,1084,1297],[cB2,187.5,1322.7,true,'IL-12Rβ2^-/-^',633,656,1433,1327,1540],[cB1,884,1086,false,'IL-12Rβ1^-/-^',1325,1348,1190,1085,1298],[cGOF,884,1323,true,'STAT1 GOF',1325,1348,1433,1326,1539]];
const cIdx=cCols.map((_,i)=>i),rIdx=cRows.map((_,i)=>i);
const gridLine={show:true,lineStyle:{color:'#ececec',width:1.4}};
cAll.forEach(c=>{
  const g=addGrid({left:c[1],top:c[2],width:433,height:216.5},
   {type:'value',min:-.594,max:21.57,axisLine:{onZero:false,lineStyle:{color:'#222',width:2.4}},axisTick:{customValues:cIdx,length:6.5,lineStyle:{color:'#222',width:1.4}},
    axisLabel:{show:c[3],customValues:cIdx,formatter:v=>cCols[v],rotate:90,fontSize:15,color:INK,fontFamily:FONT,margin:13},splitLine:Object.assign({customValues:cIdx},gridLine)},
   {type:'value',inverse:true,min:-.6,max:5.59,axisLine:{onZero:false,lineStyle:{color:'#222',width:1.6}},axisTick:{customValues:rIdx,length:6.5,lineStyle:{color:'#222',width:1.6}},
    axisLabel:{customValues:rIdx,formatter:v=>cRows[v],fontSize:20.7,color:INK,fontFamily:FONT,margin:21},splitLine:Object.assign({customValues:rIdx},gridLine)});
  bubbleIdx.push(series.length);
  series.push({type:'scatter',xAxisIndex:g,yAxisIndex:g,silent:true,clip:false,z:3,
    data:c[0].flatMap((row,r)=>row.map(b=>[b[0],r,b[1],b[2]])),encode:{x:0,y:1},symbolSize:v=>v[3]*2.55,
    itemStyle:{borderColor:'#111',borderWidth:1.2,opacity:1}});
  line(c[5],c[8],c[5],c[9],1.4,'#333');
  T(c[6],c[7],c[4],21,{rot:Math.PI/2});
});
const nesAnchors=[[-2.38,'#6C5FB3'],[-1,'#A79FD6'],[0,'#FFFFFF'],[1,'#DDA79F'],[2,'#B6615A'],[3.3,'#7F1D1D']];
T(11,1060,'C',28);T(566,1002,'GSEA (Hallmark gene sets)',15.5);T(460,1033,'NES',15,{align:'right'});
[[480,'-2'],[515,'-1'],[549,'0'],[586,'1'],[621,'2'],[656,'3']].forEach(t=>{T(t[0],1058,t[1],15);line(t[0],1016,t[0],1022,1,'#fff');line(t[0],1042,t[0],1048,1,'#fff');});
T(756.7,1021,'Adj. P',14.5,{align:'left'});
[824,860.8,897.4,939].forEach((x,i)=>{dot(x,1020,pLegendValues[i]*2.5,'#fff');T([825.5,860.8,898,940][i],1043,pLegendLabels[i],14.5);});

// ========== Panel D ==========
const gH=addGrid({left:771.5,top:470,width:667.5,height:445.7},
 {type:'category',data:genes,axisLine:{show:false},axisTick:{show:false},splitLine:{show:false},axisLabel:{interval:0,rotate:90,fontSize:11.5,color:INK,fontFamily:FONT,margin:5}},
 {type:'category',inverse:true,data:zRows.map((_,i)=>i),show:false});
const heatIdx=series.length;
series.push({type:'heatmap',xAxisIndex:gH,yAxisIndex:gH,silent:true,z:2,data:zRows.flatMap((r,y)=>r.map((v,x)=>[x,y,v])),itemStyle:{borderWidth:0},emphasis:{disabled:true}});
const gD=addGrid({left:771.5,top:421.7,width:667.5,height:46.7},{type:'value',min:258,max:1569,show:false},{type:'value',min:245,max:385,inverse:true,show:false});
series.push({type:'custom',xAxisIndex:gD,yAxisIndex:gD,silent:true,clip:false,z:3,data:dendro,renderItem:(p,api)=>{
  const P=(x,y)=>api.coord([x,y]);const [a,b,c,d,t]=[0,1,2,3,4].map(k=>api.value(k));
  return {type:'polyline',shape:{points:[P(a,b),P(a,t),P(c,t),P(c,d)]},style:{stroke:'#111',lineWidth:1.5,fill:null}};}});
[[472,657],[663,720],[728,814],[823,880],[887,913]].forEach(b=>line(767.4,b[0],767.4,b[1],2));
T(760.8,557,'Pediatric',20.5,{align:'right'});T(760.8,579,'Ctrls',20.5,{align:'right'});
T(760.8,697,'IL-12Rβ2^-/-^',20.5,{align:'right'});T(760.8,777,'IL-23R^-/-^',20.5,{align:'right'});T(760.8,854,'IL-12Rβ1^-/-^',20.5,{align:'right'});T(760.8,902,'STAT1 GOF',20.5,{align:'right'});
T(767.4,367,'GSEA leading-edge genes',14.8,{align:'left'});T(767.4,385,'Hallmark IFN-γ response',14.8,{align:'left'});T(767.4,403,'Shared between IL-23R^-/-^ and IL-12Rβ1^-/-^ in classical monocytes',14.8,{align:'left'});
T(1361,352,'Z-score',14.5);T(722.6,418,'D',28);
[[1289,'-4'],[1326,'-2'],[1361,'0'],[1397,'2'],[1431.5,'4']].forEach(t=>{T(t[0],409,t[1],15);line(t[0]-1,367,t[0]-1,373,1,'#fff');line(t[0]-1,391,t[0]-1,397,1,'#fff');});

// ========== Panel E ==========
const gPca=addGrid({left:124,top:1815,width:233,height:232.3},
 {type:'value',min:-41.1,max:44.7,axisLine:{onZero:false,lineStyle:{color:'#222',width:2.2}},axisTick:{customValues:[-40,-20,0,20,40],length:6,lineStyle:{color:'#222',width:1.5}},axisLabel:{customValues:[-40,-20,0,20,40],fontSize:16,color:INK,fontFamily:FONT,margin:14},splitLine:{show:false}},
 {type:'value',min:-20.15,max:36.2,axisLine:{onZero:false,lineStyle:{color:'#222',width:2.2}},axisTick:{customValues:[-20,-10,0,10,20,30],length:6,lineStyle:{color:'#222',width:1.5}},axisLabel:{customValues:[-20,-10,0,10,20,30],fontSize:16,color:INK,fontFamily:FONT,margin:9},splitLine:{show:false}});
const gMait=addGrid({left:455.4,top:1815,width:232.1,height:233.3},
 {type:'value',min:-11.55,max:17.2,axisLine:{onZero:false,lineStyle:{color:'#222',width:2.2}},axisTick:{customValues:[-10,0,10],length:6,lineStyle:{color:'#222',width:1.5}},axisLabel:{customValues:[-10,0,10],fontSize:16,color:INK,fontFamily:FONT,margin:14},splitLine:{show:false}},
 {type:'value',min:-10.5,max:17.4,axisLine:{onZero:false,lineStyle:{color:'#222',width:2.2}},axisTick:{customValues:[-10,0,10],length:6,lineStyle:{color:'#222',width:1.5}},axisLabel:{customValues:[-10,0,10],fontSize:16,color:INK,fontFamily:FONT,margin:9},splitLine:{show:false}});
const eFill={b1:'#7F7F7F',hc:'#FFFFFF',pc:'#FFFFFF',m:'#1E8F4E',b2:'#8249A5',r:'#DC2228',g:'#FFD40D'};
[[gPca,[pca_b1,pca_hc,pca_pc,pca_match,pca_b2,pca_23,pca_gof]],[gMait,[mait_23,mait_b1,mait_hc,mait_pc,mait_match,mait_b2,mait_gof]]].forEach(e=>{
  const cols=e[0]===gPca?['b1','hc','pc','m','b2','r','g']:['r','b1','hc','pc','m','b2','g'];
  e[1].forEach((d,i)=>{const isSq=cols[i]==='pc';
    series.push({type:'scatter',xAxisIndex:e[0],yAxisIndex:e[0],silent:true,clip:false,z:3+i,data:d,symbol:isSq?'rect':'circle',symbolSize:isSq?12.5:13.5,itemStyle:{color:eFill[cols[i]],borderColor:'#111',borderWidth:1.2,opacity:1}});});
});
T(11,1750,'E',28);
dot(168.8,1722,13.5,'#fff');T(189,1722,'Healthy controls',20.5,{align:'left'});dot(472,1723,12.5,'#fff',true);T(490,1722,'Pediatric controls',20.5,{align:'left'});
dot(168.8,1757,13.5,eFill.m);T(189,1762,'Age & Ethn. Matc. Ctrl',20.5,{align:'left'});dot(472,1757,13.5,eFill.r);T(490,1757,'IL-23R^-/-^',20.5,{align:'left'});
dot(168.8,1789,13.5,eFill.b2);T(189,1790,'IL-12Rβ2^-/-^',20.5,{align:'left'});dot(320.5,1789,13.5,eFill.b1);T(340,1790,'IL-12Rβ1^-/-^',20.5,{align:'left'});dot(472,1789,13.5,eFill.g);T(490,1790,'STAT1 GOF',20.5,{align:'left'});
T(80,1930,'PC2:  13% variance',20,{rot:Math.PI/2});T(241,2088,'PC1: 34% variance',20.5);T(413,1930,'Signal from MAIT',20.5,{rot:Math.PI/2});T(571,2088,'Signal toward MAIT',20);

// ========== Panel F ==========
const dash={symbol:'none',silent:true,animation:false,label:{show:false},lineStyle:{color:'#111',type:[7,5],width:1.6},data:[{xAxis:0},{yAxis:1.3}]};
[[884,232.6,-2.16,1.89,[-2,-1,0,1],volc23,hmgb1_23,true],[1133.6,232,-1.91,1.87,[-1,0,1],volcGOF,hmgb1_GOF,false]].forEach(f=>{
  const g=addGrid({left:f[0],top:1814,width:f[1],height:232.7},
   {type:'value',min:f[2],max:f[3],axisLine:{onZero:false,lineStyle:{color:'#222',width:2}},axisTick:{customValues:f[4],length:5,lineStyle:{color:'#222',width:1.5}},axisLabel:{customValues:f[4],fontSize:15.5,color:INK,fontFamily:FONT,margin:12},splitLine:{show:false}},
   {type:'value',min:-.2,max:4.17,axisLine:{onZero:false,lineStyle:{color:'#222',width:2}},axisTick:{customValues:[0,1,2,3,4],length:5,lineStyle:{color:'#222',width:1.5}},axisLabel:{show:f[7],customValues:[0,1,2,3,4],fontSize:15.5,color:INK,fontFamily:FONT,margin:9},splitLine:{show:false}});
  series.push({type:'scatter',xAxisIndex:g,yAxisIndex:g,silent:true,clip:false,z:3,data:f[5],symbolSize:4.8,itemStyle:{color:'#000',opacity:1},markLine:dash});
  series.push({type:'scatter',xAxisIndex:g,yAxisIndex:g,silent:true,clip:false,z:4,data:f[6],symbolSize:9.5,itemStyle:{color:'#2F75BD',opacity:1}});
});
T(965,1860,'HMGB1',15,{color:'#2F75BD'});T(1204.6,1922,'HMGB1',15,{color:'#2F75BD'});
T(723.6,1749,'F',28);T(1125.8,1763,'T_H_17, MSigDB C3 TFT',20);T(1009,1798,'IL-23R^-/-^',20);T(1250.5,1798,'STAT1 GOF',20);T(1125.8,2088,'NES',20);
T(850.7,1928,'-Log_10_~P~adj',20,{rot:Math.PI/2});

// ========== visual maps & chart ==========
const zAnchors=[[-4.4,'#3953A4'],[-3.1,'#3953A4'],[-2.2,'#6C5EA8'],[-1,'#B0A4D2'],[0,'#F0EEEE'],[1,'#F9B49E'],[2,'#F47C5F'],[3,'#ED2024'],[4.4,'#ED2024']];
const option={animation:false,backgroundColor:'#fff',textStyle:{fontFamily:FONT},tooltip:{show:false},
  grid:grids,xAxis:xAxes,yAxis:yAxes,series,graphic:{elements:graphics},
  visualMap:[
   {type:'continuous',seriesIndex:heatIdx,dimension:2,min:-4.4,max:4.4,calculable:false,orient:'horizontal',left:1283,top:367,itemWidth:30,itemHeight:156,padding:0,text:['',''],showLabel:false,inRange:{color:ramp(zAnchors,-4.4,4.4,44)}},
   {type:'continuous',seriesIndex:bubbleIdx,dimension:2,min:-2.38,max:3.3,calculable:false,orient:'horizontal',left:467,top:1016,itemWidth:32,itemHeight:200,padding:0,text:['',''],showLabel:false,inRange:{color:ramp(nesAnchors,-2.38,3.3,40)}}]};
const chart=echarts.init(document.getElementById('c'),null,{renderer:'svg',width:1439,height:2100});
chart.setOption(option);
</script></body></html>
